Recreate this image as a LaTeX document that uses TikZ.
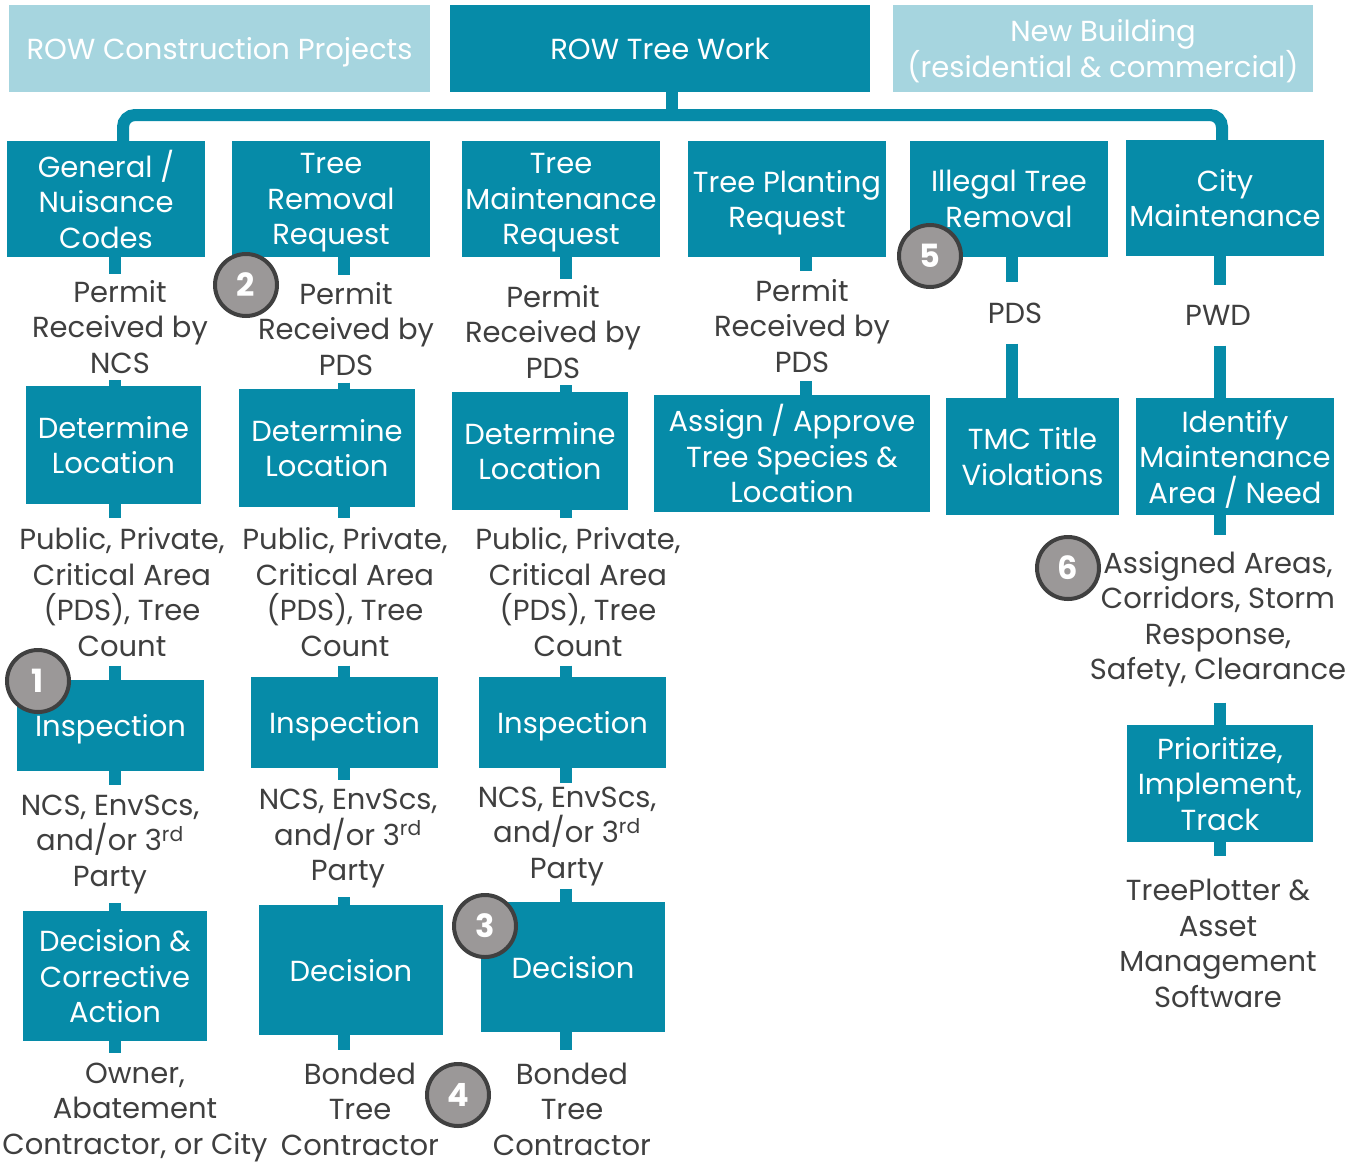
\documentclass[tikz,border=0pt]{standalone}
\usepackage{fontspec}
\setmainfont{Poppins}
\definecolor{teal}{HTML}{068BA8}
\definecolor{lteal}{HTML}{A6D5DF}
\definecolor{txt}{HTML}{3F3F3F}
\definecolor{bfill}{HTML}{9B9898}
\definecolor{bdr}{HTML}{404040}
\newcommand\fs{\fontsize{29}{35.5}\selectfont}
\newcommand\bfs{\fontsize{32}{34}\selectfont\bfseries}
\begin{document}
\begin{tikzpicture}[x=1pt,y=-1pt,
  box/.style={fill=teal,text=white,align=center,inner sep=0pt,font=\fs,text depth=0pt},
  lbox/.style={box,fill=lteal},
  lbl/.style={align=center,text=txt,font=\fs,inner sep=0pt},
  stub/.style={draw=teal,line width=12pt},
  bracket/.style={draw=teal,line width=12pt,rounded corners=12pt},
  badge/.style={circle,draw=bdr,line width=4pt,fill=bfill,text=white,font=\bfs,minimum size=62pt,inner sep=0pt}]
\useasboundingbox (0,0) rectangle (1360,1163);
% column coordinates
\coordinate (c1) at (115,0);
\coordinate (c2) at (344,0);
\coordinate (c3) at (566,0);
\coordinate (c4) at (806,0);
\coordinate (c5) at (1012,0);
\coordinate (c6) at (1220,0);
\coordinate (jl) at (123,115);
\coordinate (jn) at (672,115);
\coordinate (jr) at (1222,115);
% top row
\node[lbox,minimum width=421pt,minimum height=87pt] (top1) at (219.5,48.5) {ROW Construction Projects};
\node[box,minimum width=420pt,minimum height=87pt] (top2) at (660,48.5) {ROW Tree Work};
\node[lbox,minimum width=420pt,minimum height=87pt] (top3) at (1103,48.5) {New Building\\(residential \& commercial)};
% row 2
\node[box,minimum width=198pt,minimum height=116pt] (b1) at (106,199) {General /\\Nuisance\\Codes};
\node[box,minimum width=198pt,minimum height=116pt] (b2) at (331,199) {Tree\\Removal\\Request};
\node[box,minimum width=198pt,minimum height=116pt] (b3) at (561,199) {Tree\\Maintenance\\Request};
\node[box,minimum width=198pt,minimum height=116pt] (b4) at (787,199) {Tree Planting\\Request};
\node[box,minimum width=198pt,minimum height=116pt] (b5) at (1009,199) {Illegal Tree\\Removal};
\node[box,minimum width=198pt,minimum height=116pt] (b6) at (1225,198) {City\\Maintenance};
% bracket
\draw[bracket] (b1.north -| jl) -- (jl) -- (jr) -- (b6.north -| jr);
\draw[draw=teal,line width=12pt] (top2.south -| jn) -- (jn);
% row 3 boxes
\node[box,minimum width=175pt,minimum height=118pt] (b1b) at (113.5,445) {Determine\\Location};
\node[box,minimum width=176pt,minimum height=118pt] (b2b) at (327,448) {Determine\\Location};
\node[box,minimum width=176pt,minimum height=118pt] (b3b) at (540,451) {Determine\\Location};
\node[box,minimum width=276pt,minimum height=117pt] (b4b) at (792,453.5) {Assign / Approve\\Tree Species \&\\Location};
\node[box,minimum width=173pt,minimum height=117pt] (b5b) at (1032.5,456.5) {TMC Title\\Violations};
\node[box,minimum width=198pt,minimum height=117pt] (b6b) at (1235,456.5) {Identify\\Maintenance\\Area / Need};
% row 4 boxes
\node[box,minimum width=187pt,minimum height=91pt] (b1c) at (110.5,725.5) {Inspection};
\node[box,minimum width=187pt,minimum height=91pt] (b2c) at (344.5,722.5) {Inspection};
\node[box,minimum width=187pt,minimum height=91pt] (b3c) at (572.5,722.5) {Inspection};
\node[box,minimum width=186pt,minimum height=117pt] (b6c) at (1220,783.5) {Prioritize,\\Implement,\\Track};
% row 5 boxes
\node[box,minimum width=184pt,minimum height=130pt] (b1d) at (115,976) {Decision \&\\Corrective\\Action};
\node[box,minimum width=184pt,minimum height=130pt] (b2d) at (351,970) {Decision};
\node[box,minimum width=184pt,minimum height=130pt] (b3d) at (573,967) {Decision};
% labels
\node[lbl,minimum height=106pt] (t1a) at (120,327) {Permit\\Received by\\NCS};
\node[lbl,minimum height=147pt] (t1b) at (122,592) {Public, Private,\\Critical Area\\(PDS), Tree\\Count};
\node[lbl,minimum height=118pt] (t1c) at (110,844) {NCS, EnvScs,\\and/or 3\textsuperscript{rd}\\Party};
\node[lbl,minimum height=118pt] (t1d) at (135,1112) {Owner,\\Abatement\\Contractor, or City};
\node[lbl,minimum height=107pt] (t2a) at (346,329) {Permit\\Received by\\PDS};
\node[lbl,minimum height=147pt] (t2b) at (345,592) {Public, Private,\\Critical Area\\(PDS), Tree\\Count};
\node[lbl,minimum height=117pt] (t2c) at (348,838.5) {NCS, EnvScs,\\and/or 3\textsuperscript{rd}\\Party};
\node[lbl,minimum height=118pt] (t2d) at (360,1109) {Bonded\\Tree\\Contractor};
\node[lbl,minimum height=106pt] (t3a) at (553,332) {Permit\\Received by\\PDS};
\node[lbl,minimum height=147pt] (t3b) at (578,592) {Public, Private,\\Critical Area\\(PDS), Tree\\Count};
\node[lbl,minimum height=105pt] (t3c) at (567,836) {NCS, EnvScs,\\and/or 3\textsuperscript{rd}\\Party};
\node[lbl,minimum height=118pt] (t3d) at (572,1109) {Bonded\\Tree\\Contractor};
\node[lbl,minimum height=110pt] (t4a) at (802,326) {Permit\\Received by\\PDS};
\node[lbl,minimum height=61pt] (t5a) at (1015,313) {PDS};
\node[lbl,minimum height=60pt] (t6a) at (1218,315.5) {PWD};
\node[lbl,minimum height=167pt] (t6b) at (1218,619) {Assigned Areas,\\Corridors, Storm\\Response,\\Safety, Clearance};
\node[lbl,minimum height=175pt] (t6c) at (1218,943.5) {TreePlotter \&\\Asset\\Management\\Software};
% stubs
\draw[stub] (b1.south -| c1) -- (t1a.north -| c1);
\draw[stub] (t1a.south -| c1) -- (b1b.north -| c1);
\draw[stub] (b1b.south -| c1) -- (t1b.north -| c1);
\draw[stub] (t1b.south -| c1) -- (b1c.north -| c1);
\draw[stub] (b1c.south -| c1) -- (t1c.north -| c1);
\draw[stub] (t1c.south -| c1) -- (b1d.north -| c1);
\draw[stub] (b1d.south -| c1) -- (t1d.north -| c1);
\draw[stub] (b2.south -| c2) -- (t2a.north -| c2);
\draw[stub] (t2a.south -| c2) -- (b2b.north -| c2);
\draw[stub] (b2b.south -| c2) -- (t2b.north -| c2);
\draw[stub] (t2b.south -| c2) -- (b2c.north -| c2);
\draw[stub] (b2c.south -| c2) -- (t2c.north -| c2);
\draw[stub] (t2c.south -| c2) -- (b2d.north -| c2);
\draw[stub] (b2d.south -| c2) -- (t2d.north -| c2);
\draw[stub] (b3.south -| c3) -- (t3a.north -| c3);
\draw[stub] (t3a.south -| c3) -- (b3b.north -| c3);
\draw[stub] (b3b.south -| c3) -- (t3b.north -| c3);
\draw[stub] (t3b.south -| c3) -- (b3c.north -| c3);
\draw[stub] (b3c.south -| c3) -- (t3c.north -| c3);
\draw[stub] (t3c.south -| c3) -- (b3d.north -| c3);
\draw[stub] (b3d.south -| c3) -- (t3d.north -| c3);
\draw[stub] (b4.south -| c4) -- (t4a.north -| c4);
\draw[stub] (t4a.south -| c4) -- (b4b.north -| c4);
\draw[stub] (b5.south -| c5) -- (t5a.north -| c5);
\draw[stub] (t5a.south -| c5) -- (b5b.north -| c5);
\draw[stub] (b6.south -| c6) -- (t6a.north -| c6);
\draw[stub] (t6a.south -| c6) -- (b6b.north -| c6);
\draw[stub] (b6b.south -| c6) -- (t6b.north -| c6);
\draw[stub] (t6b.south -| c6) -- (b6c.north -| c6);
\draw[stub] (b6c.south -| c6) -- (t6c.north -| c6);
% badges
\node[badge] (n1) at (38,681) {1};
\node[badge] (n2) at (246,285) {2};
\node[badge] (n3) at (485,926) {3};
\node[badge] (n4) at (458,1095) {4};
\node[badge] (n5) at (930,256) {5};
\node[badge] (n6) at (1068,568) {6};
\end{tikzpicture}
\end{document}
